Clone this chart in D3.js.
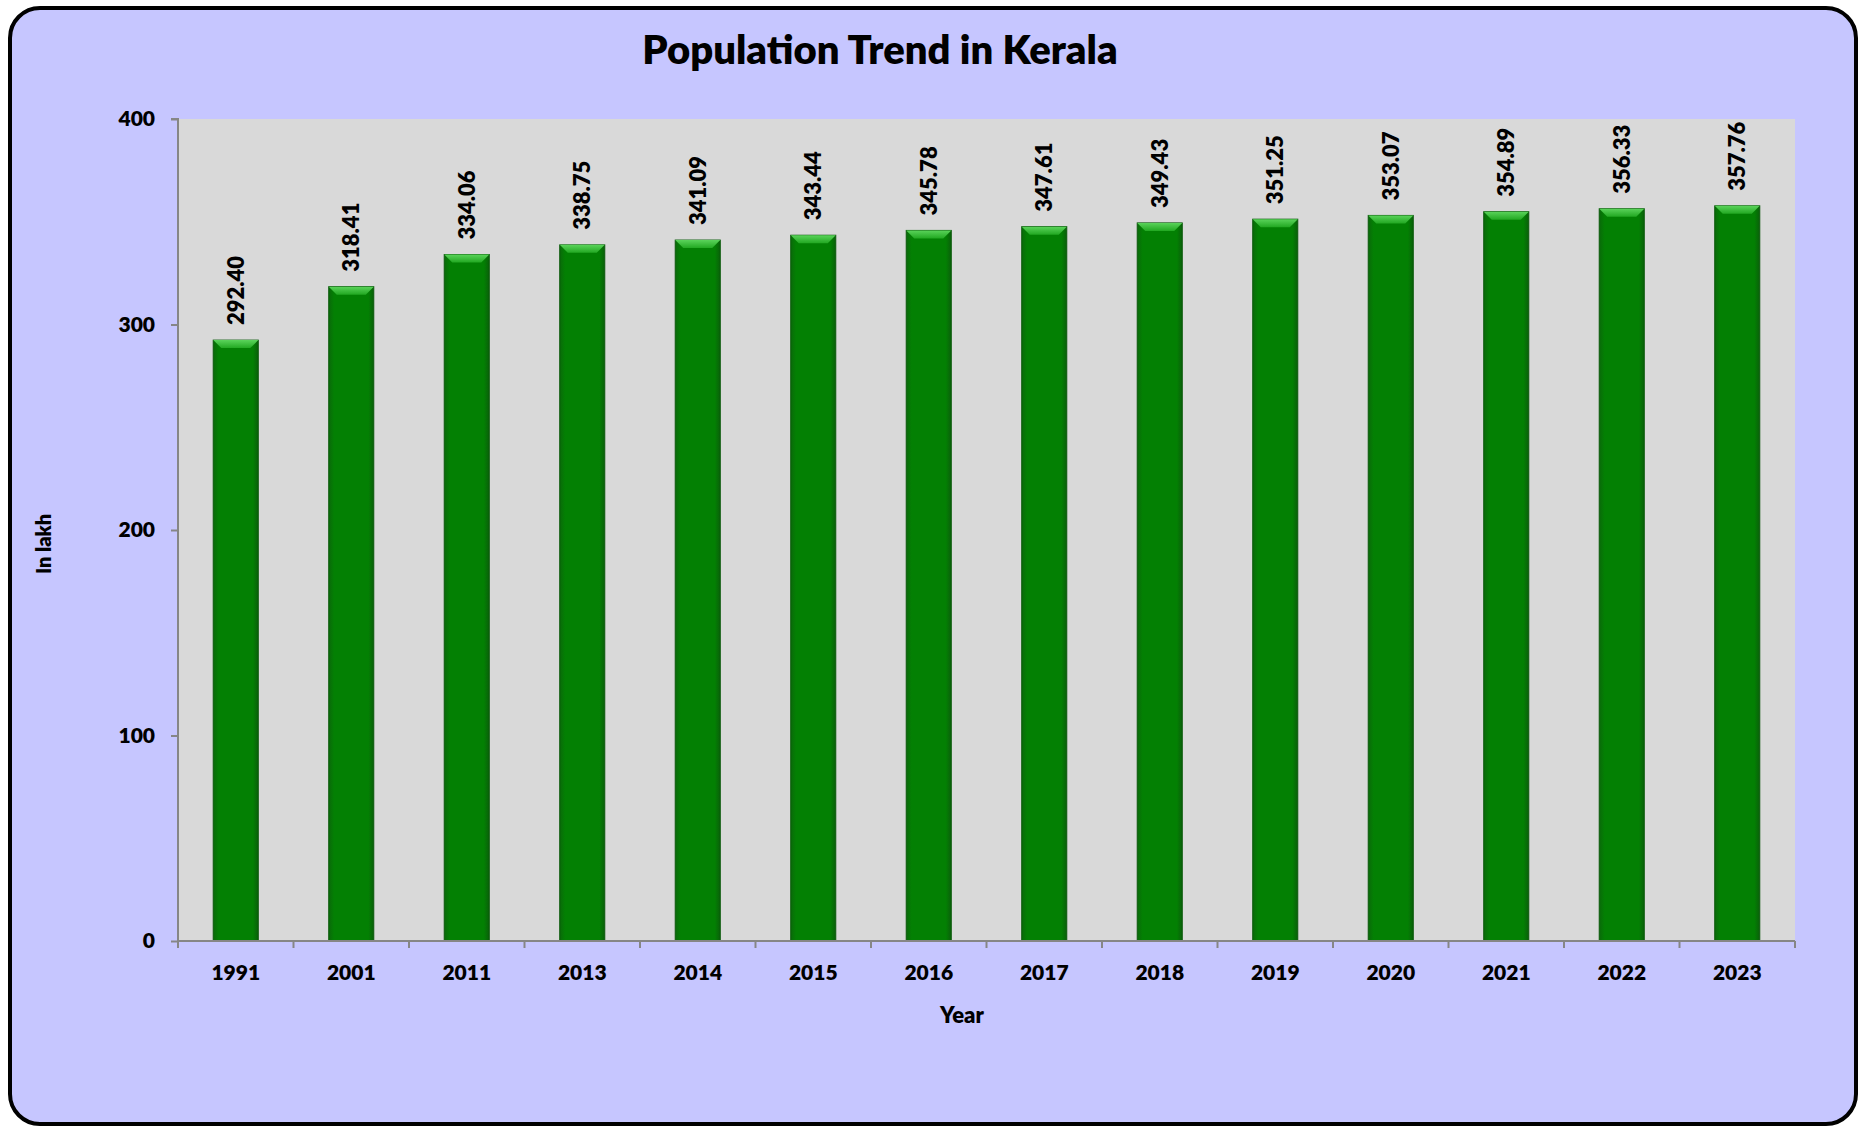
<!DOCTYPE html>
<html>
<head>
<meta charset="utf-8">
<script src="https://cdn.jsdelivr.net/npm/d3@7"></script>
<style>
  html, body { margin: 0; padding: 0; background: #ffffff; }
  svg text { font-family: Lato, "Open Sans", sans-serif; font-weight: 800; fill: #000; }
</style>
</head>
<body>
<div id="svgBody"></div>
<script>
var years = ["1991", "2001", "2011", "2013", "2014", "2015", "2016", "2017", "2018", "2019", "2020", "2021", "2022", "2023"];
var population = [292.40, 318.41, 334.06, 338.75, 341.09, 343.44, 345.78, 347.61, 349.43, 351.25, 353.07, 354.89, 356.33, 357.76];
var yTicks = [0, 100, 200, 300, 400];

var W = 1866, H = 1128;
var margin = {top: 119, right: 71, bottom: 187, left: 178};
var width = W - margin.left - margin.right,
    height = H - margin.top - margin.bottom;

var root = d3.select("#svgBody")
    .append("svg")
    .attr("width", W)
    .attr("height", H);

// gradients for the bevelled bars
var defs = root.append("defs");
var g1 = defs.append("linearGradient").attr("id", "barGrad")
    .attr("x1", "0%").attr("x2", "100%").attr("y1", "0%").attr("y2", "0%");
g1.append("stop").attr("offset", "0%").attr("stop-color", "#0a6a0a");
g1.append("stop").attr("offset", "12%").attr("stop-color", "#038003");
g1.append("stop").attr("offset", "88%").attr("stop-color", "#038003");
g1.append("stop").attr("offset", "100%").attr("stop-color", "#0a600a");
var g2 = defs.append("linearGradient").attr("id", "topGrad")
    .attr("x1", "0%").attr("x2", "0%").attr("y1", "0%").attr("y2", "100%");
g2.append("stop").attr("offset", "0%").attr("stop-color", "#5ad35a");
g2.append("stop").attr("offset", "100%").attr("stop-color", "#22a822");

// frame
root.append("rect")
    .attr("x", 10).attr("y", 8)
    .attr("width", 1846).attr("height", 1116)
    .attr("rx", 30).attr("ry", 30)
    .attr("fill", "#c6c6ff")
    .attr("stroke", "#000")
    .attr("stroke-width", 4);

var svg = root.append("g")
    .attr("transform", "translate(" + margin.left + "," + margin.top + ")");

// plot area
svg.append("rect")
    .attr("width", width).attr("height", height)
    .attr("fill", "#d9d9d9");

var x = d3.scaleBand()
    .domain(years)
    .range([0, width])
    .paddingInner(0.61)
    .paddingOuter(0.305);

var y = d3.scaleLinear()
    .domain([0, 400])
    .range([height, 0]);

// bars
var bars = svg.selectAll(".bar")
    .data(years)
    .enter()
    .append("g")
    .attr("class", "bar");

bars.append("rect")
    .attr("x", function(d) { return x(d); })
    .attr("y", function(d, i) { return y(population[i]); })
    .attr("width", x.bandwidth())
    .attr("height", function(d, i) { return height - y(population[i]); })
    .attr("fill", "url(#barGrad)")
    .attr("stroke", "#0b5a0b")
    .attr("stroke-width", 1);

// top bevel
bars.append("path")
    .attr("d", function(d, i) {
        var x0 = x(d), x1 = x(d) + x.bandwidth(), yt = y(population[i]), b = 8;
        return "M" + x0 + "," + yt + "L" + x1 + "," + yt + "L" + (x1 - b) + "," + (yt + b) +
               "L" + (x0 + b) + "," + (yt + b) + "Z";
    })
    .attr("fill", "url(#topGrad)");

// value labels
bars.append("text")
    .attr("transform", function(d, i) {
        return "translate(" + (x(d) + x.bandwidth() / 2 + 8) + "," + (y(population[i]) - 15) + ") rotate(-90)";
    })
    .style("text-anchor", "start")
    .attr("font-size", "22px")
    .text(function(d, i) { return population[i].toFixed(2); });

// axes
var yAxis = svg.append("g")
    .call(d3.axisLeft(y).tickValues(yTicks).tickSize(7).tickPadding(16));
var xAxis = svg.append("g")
    .attr("transform", "translate(0," + height + ")")
    .call(d3.axisBottom(x).tickSize(0).tickPadding(24));

yAxis.selectAll("path, line").attr("stroke", "#868686").attr("stroke-width", 2);
yAxis.select(".domain").attr("d", "M0," + height + "V0H-7");
xAxis.select(".domain").attr("stroke", "#868686").attr("stroke-width", 2)
    .attr("d", "M0,0H" + width);
yAxis.selectAll("text").attr("font-size", "21px").attr("font-family", "Lato, sans-serif").attr("font-weight", "800");
xAxis.selectAll("text").attr("font-size", "21px").attr("font-family", "Lato, sans-serif").attr("font-weight", "800");

// category boundary ticks
var step = x.step();
svg.append("g").selectAll("line")
    .data(d3.range(years.length + 1))
    .enter()
    .append("line")
    .attr("x1", function(i) { return i * step; })
    .attr("x2", function(i) { return i * step; })
    .attr("y1", height)
    .attr("y2", height + 7)
    .attr("stroke", "#868686")
    .attr("stroke-width", 2);

// title
root.append("text")
    .attr("x", 880)
    .attr("y", 64)
    .style("text-anchor", "middle")
    .attr("font-size", "40px")
    .text("Population Trend in Kerala");

// axis titles
root.append("text")
    .attr("x", 962)
    .attr("y", 1023)
    .style("text-anchor", "middle")
    .attr("font-size", "22px")
    .text("Year");

root.append("text")
    .attr("transform", "translate(51,544) rotate(-90)")
    .style("text-anchor", "middle")
    .attr("font-size", "20px")
    .text("In lakh");
</script>
</body>
</html>
